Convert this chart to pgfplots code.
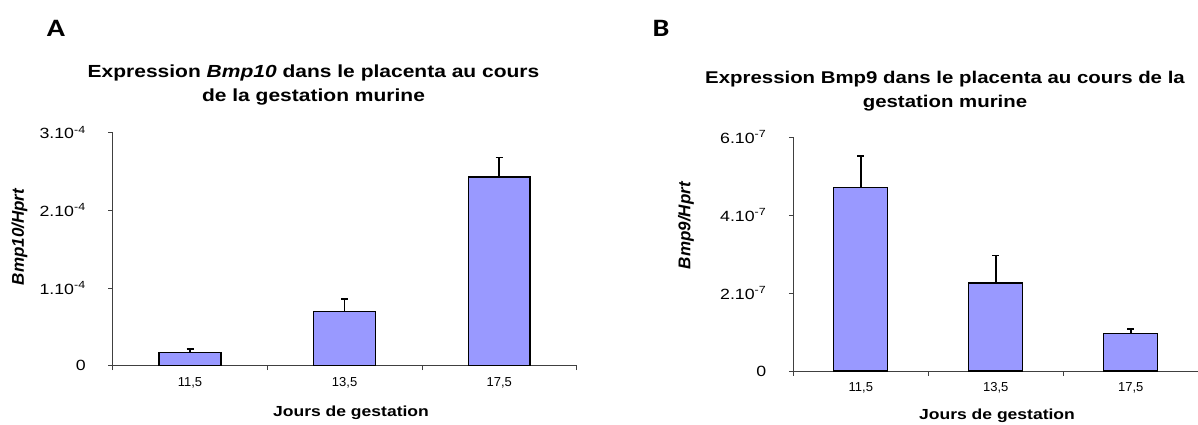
\documentclass[border=0pt]{standalone}
\usepackage{pgfplots}
\pgfplotsset{compat=1.18}
\usepackage{fontspec}
\setmainfont{Liberation Sans}[FakeStretch=1.2]
\newfontfamily\ylabfont{Liberation Sans}
\newfontfamily\panelfont{Carlito}[FakeStretch=1.2]
\definecolor{barblue}{HTML}{9999FF}
\definecolor{axisgray}{HTML}{404040}
\pgfplotsset{
  panel/.style={
    scale only axis, anchor=south west,
    axis x line=bottom, axis y line=left,
    axis line style={-, draw=axisgray, line width=1pt},
    xmin=0.5, xmax=3.5,
    xtick={0.5,1.5,2.5,3.5},
    x tick label as interval,
    xticklabels={{11,5},{13,5},{17,5}},
    tick align=outside,
    major tick length=4.5pt,
    tick style={draw=axisgray, line width=0.8pt},
    ymin=0,
    scaled y ticks=false,
    x tick label style={font=\ylabfont\fontsize{13}{13}\selectfont, yshift=-3.5pt},
    y tick label style={font=\fontsize{14.8}{15}\selectfont, xshift=-19pt},
    ybar, bar width=0.4,
    clip=false,
  },
  bars/.style={fill=barblue, draw=black, line width=1.3pt,
    error bars/.cd, y dir=plus, y explicit,
    error bar style={line width=1.6pt, black},
    error mark options={rotate=90, mark size=3.5pt, line width=1.3pt, black}},
}
\begin{document}
\begin{tikzpicture}
\useasboundingbox (0pt,0pt) rectangle (1198pt,424pt);
% Panel A
\node[font=\panelfont\fontsize{25}{25}\selectfont\bfseries] at (56pt,396pt) {A};
\node[font=\fontsize{17.5}{20}\selectfont\bfseries, anchor=base] at (313.5pt,346.7pt) {Expression \textit{Bmp10} dans le placenta au cours};
\node[font=\fontsize{17.5}{20}\selectfont\bfseries, anchor=base] at (313.5pt,323pt) {de la gestation murine};
\node[font=\ylabfont\fontsize{17}{17}\selectfont\bfseries\itshape, rotate=90] at (19.4pt,187pt) {Bmp10/Hprt};
\node[font=\fontsize{14.6}{15}\selectfont\bfseries, anchor=base] at (351pt,7.5pt) {Jours de gestation};
\begin{axis}[panel, at={(112.7pt,58.3pt)}, width=463.8pt, height=233.4pt,
  ymax=3e-4, ytick={0,1e-4,2e-4,3e-4},
  yticklabels={0,{1.10\textsuperscript{-4}},{2.10\textsuperscript{-4}},{3.10\textsuperscript{-4}}}]
\addplot[bars] coordinates {
  (1,1.72e-5) +- (0,0.42e-5)
  (2,6.93e-5) +- (0,1.63e-5)
  (3,2.426e-4) +- (0,0.253e-4)
};
\end{axis}
% Panel B
\node[font=\panelfont\fontsize{25}{25}\selectfont\bfseries] at (661pt,395.3pt) {B};
\node[font=\fontsize{17}{20}\selectfont\bfseries, anchor=base] at (945pt,340.7pt) {Expression Bmp9 dans le placenta au cours de la};
\node[font=\fontsize{17}{20}\selectfont\bfseries, anchor=base] at (945pt,316.7pt) {gestation murine};
\node[font=\ylabfont\fontsize{17}{17}\selectfont\bfseries\itshape, rotate=90] at (686pt,198.4pt) {Bmp9/Hprt};
\node[font=\fontsize{14.6}{15}\selectfont\bfseries, anchor=base] at (997pt,4.5pt) {Jours de gestation};
\begin{axis}[panel, at={(793.3pt,53pt)}, width=405pt, height=234pt,
  ymax=6e-7, ytick={0,2e-7,4e-7,6e-7},
  yticklabels={0,{2.10\textsuperscript{-7}},{4.10\textsuperscript{-7}},{6.10\textsuperscript{-7}}}]
\addplot[bars] coordinates {
  (1,4.70e-7) +- (0,0.81e-7)
  (2,2.26e-7) +- (0,0.71e-7)
  (3,0.97e-7) +- (0,0.11e-7)
};
\end{axis}
\end{tikzpicture}
\end{document}
